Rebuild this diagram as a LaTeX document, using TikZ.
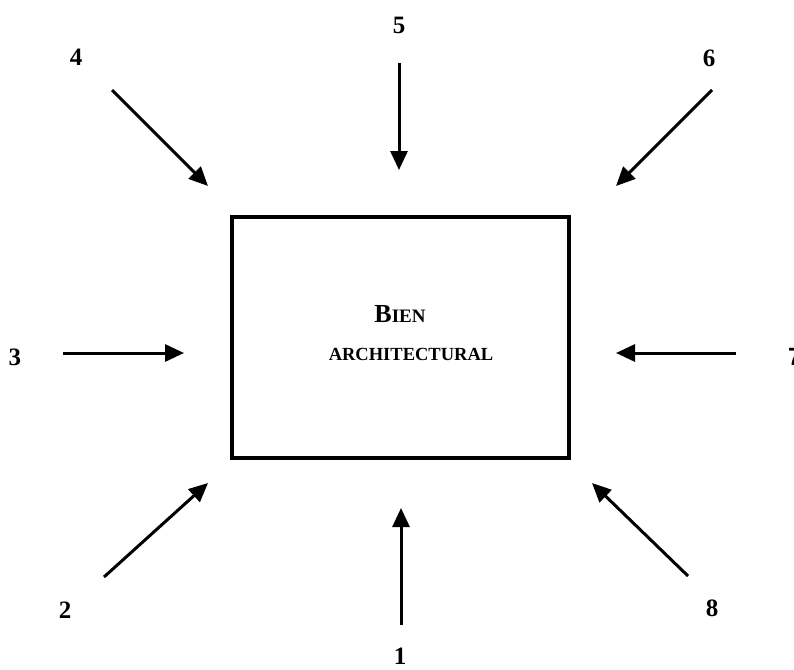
\documentclass[tikz,border=0pt]{standalone}
\usepackage{fontspec}
\setmainfont{Liberation Serif}
\newfontfamily\digitsans{Liberation Sans}
\usetikzlibrary{arrows.meta}
\tikzset{
  num/.style={font=\fontsize{25}{28}\selectfont\bfseries, inner sep=0pt},
  ray/.style={line width=3pt, -{Triangle[length=19pt,width=17pt]}},
  frame/.style={draw, line width=4pt, inner sep=0pt}
}
\begin{document}
\begin{tikzpicture}[x=1pt,y=-1pt]
  \useasboundingbox (0,0) rectangle (794,669);
  % central box and its caption
  \node[frame, minimum width=337pt, minimum height=241pt] (box) at (400.5,337.5) {};
  \node[inner sep=0pt, anchor=base] (t1) at (400,322)
    {\bfseries\fontsize{26}{28}\selectfont B\fontsize{19}{22}\selectfont IEN};
  \node[inner sep=0pt, anchor=base] (t2) at (411,360)
    {\bfseries\fontsize{18.5}{22}\selectfont ARCHITECTURAL};
  % numbered labels
  \node[num] (n1) at (400,656) {1};
  \node[num] (n2) at (65,610) {2};
  \node[num] (n3) at (15,357) {3};
  \node[num] (n4) at (76,57) {4};
  \node[num] (n5) at (399,25) {5};
  \node[num] (n6) at (709,58) {6};
  \node[num, font=\digitsans\fontsize{25}{28}\selectfont\bfseries] (n7) at (795,357) {7};
  \node[num] (n8) at (712,608) {8};
  % arrow end points
  \coordinate (s1) at (401,625); \coordinate (e1) at (401,508);
  \coordinate (s2) at (104,577); \coordinate (e2) at (208,483);
  \coordinate (s3) at (63,353);  \coordinate (e3) at (184,353);
  \coordinate (s4) at (112,90);  \coordinate (e4) at (208,186);
  \coordinate (s5) at (399,63);  \coordinate (e5) at (399,170);
  \coordinate (s6) at (712,90);  \coordinate (e6) at (616,186);
  \coordinate (s7) at (736,353); \coordinate (e7) at (616,353);
  \coordinate (s8) at (688,576); \coordinate (e8) at (592,483);
  % arrows pointing at the box
  \foreach \i in {1,...,8} \draw[ray] (s\i) -- (e\i);
\end{tikzpicture}
\end{document}
